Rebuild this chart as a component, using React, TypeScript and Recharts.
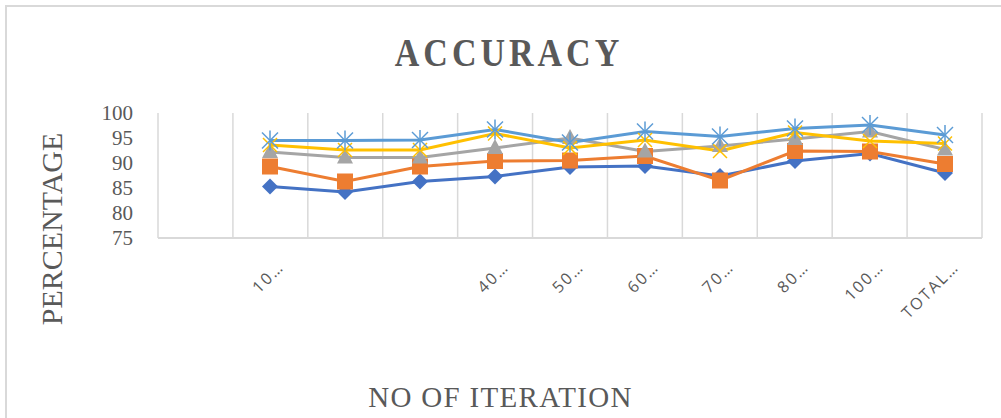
import React from 'react';
import { LineChart, Line, XAxis, YAxis, CartesianGrid } from 'recharts';

const iterations = ['0', '10', '20', '30', '40', '50', '60', '70', '80', '100', 'TOTAL'];
const tickLabels = ['', '10…', '', '', '40…', '50…', '60…', '70…', '80…', '100…', 'TOTAL…'];

const series1 = [null, 85.3, 84.2, 86.3, 87.3, 89.2, 89.4, 87.4, 90.4, 91.9, 88.0];
const series2 = [null, 89.3, 86.3, 89.3, 90.4, 90.5, 91.4, 86.5, 92.4, 92.3, 89.8];
const series3 = [null, 92.2, 91.1, 91.1, 93.0, 95.0, 92.3, 93.4, 94.8, 96.3, 92.7];
const series4 = [null, 93.6, 92.6, 92.6, 95.9, 93.0, 94.6, 92.4, 96.1, 94.4, 93.9];
const series5 = [null, 94.5, 94.5, 94.6, 96.7, 94.1, 96.3, 95.3, 96.9, 97.6, 95.6];

const yTicks = [75, 80, 85, 90, 95, 100];

const data = iterations.map((it, i) => ({
  it,
  s1: series1[i],
  s2: series2[i],
  s3: series3[i],
  s4: series4[i],
  s5: series5[i],
}));

const GREY = '#595959';

const marker = (kind: string, color: string) => (props: any) => {
  const { cx, cy, index } = props;
  const key = `${kind}-${index}`;
  if (cx == null || cy == null || props.value == null || (Array.isArray(props.value) && props.value[1] == null)) {
    return <g key={key} />;
  }
  if (kind === 'diamond') {
    const r = 8;
    return <path key={key} d={`M${cx},${cy - r}L${cx + r},${cy}L${cx},${cy + r}L${cx - r},${cy}Z`} fill={color} />;
  }
  if (kind === 'square') {
    const s = 8;
    return <rect key={key} x={cx - s} y={cy - s} width={s * 2} height={s * 2} fill={color} />;
  }
  if (kind === 'triangle') {
    return <path key={key} d={`M${cx},${cy - 9}L${cx + 8},${cy + 6}L${cx - 8},${cy + 6}Z`} fill={color} />;
  }
  if (kind === 'x') {
    const r = 7;
    return (
      <g key={key} stroke={color} strokeWidth={1.5}>
        <line x1={cx - r} y1={cy - r} x2={cx + r} y2={cy + r} />
        <line x1={cx - r} y1={cy + r} x2={cx + r} y2={cy - r} />
      </g>
    );
  }
  const r = 8;
  return (
    <g key={key} stroke={color} strokeWidth={1.5}>
      <line x1={cx - r} y1={cy - r} x2={cx + r} y2={cy + r} />
      <line x1={cx - r} y1={cy + r} x2={cx + r} y2={cy - r} />
      <line x1={cx} y1={cy - r - 2} x2={cx} y2={cy + r + 2} />
    </g>
  );
};

const XTick = (props: any) => {
  const { x, y, index } = props;
  return (
    <text
      x={0}
      y={0}
      transform={`translate(${x + 15},${y + 30}) rotate(-45)`}
      textAnchor="end"
      fill={GREY}
      fontSize={16}
      letterSpacing={2}
      fontFamily="'Open Sans', sans-serif"
    >
      {tickLabels[index]}
    </text>
  );
};

export default function App() {
  return (
    <div style={{ position: 'absolute', left: 0, top: 0, width: 1001, height: 418, overflow: 'hidden', background: '#fff' }}>
      <div style={{ position: 'absolute', left: 5, top: 5, width: 1100, height: 500, border: '2px solid #D9D9D9' }} />
      <div
        style={{
          position: 'absolute', left: 0, width: 1018, top: 34, textAlign: 'center',
          fontFamily: "'Liberation Serif', serif", fontWeight: 'bold', fontSize: 34,
          letterSpacing: 4, color: GREY, transform: 'scaleY(1.15)',
        }}
      >
        ACCURACY
      </div>
      <div
        style={{
          position: 'absolute', left: 52, top: 229, transform: 'translate(-50%, -50%) rotate(-90deg)',
          fontFamily: "'Liberation Serif', serif", fontSize: 30, color: GREY, whiteSpace: 'nowrap',
        }}
      >
        PERCENTAGE
      </div>
      <div
        style={{
          position: 'absolute', left: 0, width: 1001, top: 381, textAlign: 'center',
          fontFamily: "'Liberation Serif', serif", fontSize: 29, letterSpacing: 1.3, color: GREY,
        }}
      >
        NO OF ITERATION
      </div>
      <div style={{ position: 'absolute', left: 0, top: 0 }}>
        <LineChart width={1001} height={418} data={data} margin={{ top: 113, right: 19, bottom: 0, left: 0 }}>
          <CartesianGrid
            horizontal={false}
            stroke="#D9D9D9"
            strokeWidth={1.5}
            verticalCoordinatesGenerator={({ offset }: any) =>
              iterations.concat(['end']).map((_, i) => offset.left + (i * offset.width) / iterations.length)
            }
          />
          <XAxis
            dataKey="it"
            interval={0}
            height={180}
            padding={{ left: 37, right: 37 }}
            axisLine={{ stroke: '#D9D9D9', strokeWidth: 2 }}
            tickLine={false}
            tickSize={0}
            tickMargin={0}
            tick={<XTick />}
          />
          <YAxis
            width={158}
            domain={[75, 100]}
            ticks={yTicks}
            interval={0}
            axisLine={false}
            tickLine={false}
            tickSize={0}
            tickMargin={25}
            tick={{ fill: GREY, fontSize: 21, fontFamily: "'Liberation Serif', serif" }}
          />
          <Line dataKey="s1" stroke="#4472C4" strokeWidth={3} dot={marker('diamond', '#4472C4')} isAnimationActive={false} />
          <Line dataKey="s2" stroke="#ED7D31" strokeWidth={3} dot={marker('square', '#ED7D31')} isAnimationActive={false} />
          <Line dataKey="s3" stroke="#A5A5A5" strokeWidth={3} dot={marker('triangle', '#A5A5A5')} isAnimationActive={false} />
          <Line dataKey="s4" stroke="#FFC000" strokeWidth={3} dot={marker('x', '#FFC000')} isAnimationActive={false} />
          <Line dataKey="s5" stroke="#5B9BD5" strokeWidth={3} dot={marker('star', '#5B9BD5')} isAnimationActive={false} />
        </LineChart>
      </div>
    </div>
  );
}
